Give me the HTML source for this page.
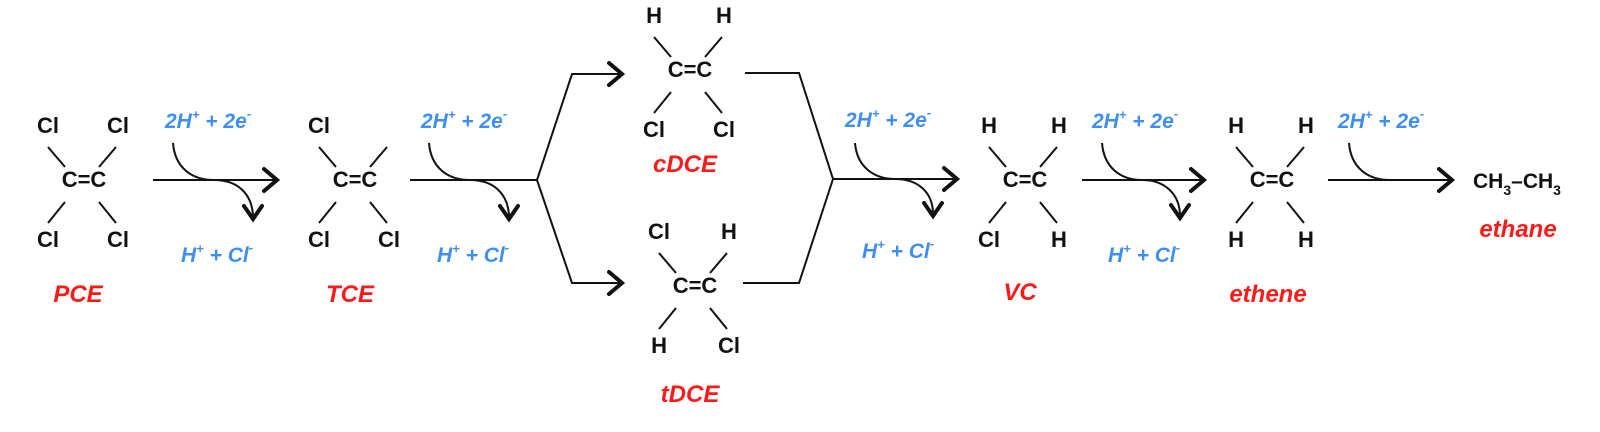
<!DOCTYPE html>
<html><head><meta charset="utf-8"><style>
html,body{margin:0;padding:0;background:#fff;}
svg{display:block;}
.a{font-family:"Liberation Sans",sans-serif;font-weight:bold;font-size:22px;fill:#111;}
.b{font-family:"Liberation Sans",sans-serif;font-weight:bold;font-style:italic;font-size:21px;fill:#3f8ef0;}
.r{font-family:"Liberation Sans",sans-serif;font-weight:bold;font-style:italic;font-size:24px;fill:#ff1a1a;}
.l{stroke:#111;stroke-width:2;fill:none;}
.h{stroke:#111;stroke-width:4;fill:none;stroke-linecap:round;stroke-linejoin:miter;}
</style></head><body>
<svg width="1600" height="432" viewBox="0 0 1600 432" xmlns="http://www.w3.org/2000/svg">

<!-- PCE -->
<g transform="translate(84,187)">
<text class="a" x="0" y="0" text-anchor="middle">C=C</text>
<path class="l" d="M-36,-40 L-19,-20 M32,-40 L15,-20 M-19,15 L-36,36 M15,15 L32,36"/>
<text class="a" x="-36" y="-54" text-anchor="middle">Cl</text>
<text class="a" x="34" y="-54" text-anchor="middle">Cl</text>
<text class="a" x="-36" y="60" text-anchor="middle">Cl</text>
<text class="a" x="34" y="60" text-anchor="middle">Cl</text>
</g>
<text class="r" x="78" y="302" text-anchor="middle">PCE</text>

<!-- TCE -->
<g transform="translate(355,187)">
<text class="a" x="0" y="0" text-anchor="middle">C=C</text>
<path class="l" d="M-36,-40 L-19,-20 M32,-40 L15,-20 M-19,15 L-36,36 M15,15 L32,36"/>
<text class="a" x="-36" y="-54" text-anchor="middle">Cl</text>
<text class="a" x="-36" y="60" text-anchor="middle">Cl</text>
<text class="a" x="34" y="60" text-anchor="middle">Cl</text>
</g>
<text class="r" x="350" y="302" text-anchor="middle">TCE</text>

<!-- cDCE -->
<g transform="translate(690,77)">
<text class="a" x="0" y="0" text-anchor="middle">C=C</text>
<path class="l" d="M-36,-40 L-19,-20 M32,-40 L15,-20 M-19,15 L-36,36 M15,15 L32,36"/>
<text class="a" x="-36" y="-54" text-anchor="middle">H</text>
<text class="a" x="34" y="-54" text-anchor="middle">H</text>
<text class="a" x="-36" y="60" text-anchor="middle">Cl</text>
<text class="a" x="34" y="60" text-anchor="middle">Cl</text>
</g>
<text class="r" x="685" y="172" text-anchor="middle">cDCE</text>

<!-- tDCE -->
<g transform="translate(695,293)">
<text class="a" x="0" y="0" text-anchor="middle">C=C</text>
<path class="l" d="M-36,-40 L-19,-20 M32,-40 L15,-20 M-19,15 L-36,36 M15,15 L32,36"/>
<text class="a" x="-36" y="-54" text-anchor="middle">Cl</text>
<text class="a" x="34" y="-54" text-anchor="middle">H</text>
<text class="a" x="-36" y="60" text-anchor="middle">H</text>
<text class="a" x="34" y="60" text-anchor="middle">Cl</text>
</g>
<text class="r" x="690" y="402" text-anchor="middle">tDCE</text>

<!-- VC -->
<g transform="translate(1025,187)">
<text class="a" x="0" y="0" text-anchor="middle">C=C</text>
<path class="l" d="M-36,-40 L-19,-20 M32,-40 L15,-20 M-19,15 L-36,36 M15,15 L32,36"/>
<text class="a" x="-36" y="-54" text-anchor="middle">H</text>
<text class="a" x="34" y="-54" text-anchor="middle">H</text>
<text class="a" x="-36" y="60" text-anchor="middle">Cl</text>
<text class="a" x="34" y="60" text-anchor="middle">H</text>
</g>
<text class="r" x="1020" y="300" text-anchor="middle">VC</text>

<!-- ethene -->
<g transform="translate(1272,187)">
<text class="a" x="0" y="0" text-anchor="middle">C=C</text>
<path class="l" d="M-36,-40 L-19,-20 M32,-40 L15,-20 M-19,15 L-36,36 M15,15 L32,36"/>
<text class="a" x="-36" y="-54" text-anchor="middle">H</text>
<text class="a" x="34" y="-54" text-anchor="middle">H</text>
<text class="a" x="-36" y="60" text-anchor="middle">H</text>
<text class="a" x="34" y="60" text-anchor="middle">H</text>
</g>
<text class="r" x="1268" y="302" text-anchor="middle">ethene</text>

<!-- ethane -->
<text class="a" x="1473" y="188" style="font-size:21px">CH<tspan dy="7" style="font-size:14px">3</tspan><tspan dy="-7">–CH</tspan><tspan dy="7" style="font-size:14px">3</tspan></text>
<text class="r" x="1518" y="237" text-anchor="middle">ethane</text>

<!-- Arrow 1 -->
<path class="l" d="M153,180 L276,180"/>
<path class="h" d="M264,169 L277,180 L264,191"/>
<path class="l" d="M173,143 C175,168 192,180 214,180 C238,180 252,194 253,216"/>
<path class="h" d="M244,206 L253,219 L262,206"/>
<text class="b" x="165" y="128">2H<tspan dy="-9" style="font-size:13px">+</tspan><tspan dy="9"> + 2e</tspan><tspan dy="-10" style="font-size:13px">-</tspan></text>
<text class="b" x="181" y="262">H<tspan dy="-9" style="font-size:13px">+</tspan><tspan dy="9"> + Cl</tspan><tspan dy="-10" style="font-size:13px">-</tspan></text>

<!-- Arrow 2 + branch -->
<path class="l" d="M410,180 L537,180"/>
<path class="l" d="M429,143 C431,168 448,180 470,180 C494,180 508,194 509,216"/>
<path class="h" d="M500,206 L509,219 L518,206"/>
<text class="b" x="421" y="128">2H<tspan dy="-9" style="font-size:13px">+</tspan><tspan dy="9"> + 2e</tspan><tspan dy="-10" style="font-size:13px">-</tspan></text>
<text class="b" x="437" y="262">H<tspan dy="-9" style="font-size:13px">+</tspan><tspan dy="9"> + Cl</tspan><tspan dy="-10" style="font-size:13px">-</tspan></text>
<path class="l" d="M537,180 L572,74 L621,74 M537,180 L572,283 L621,283"/>
<path class="h" d="M609,63 L622,74 L609,85"/>
<path class="h" d="M609,272 L622,283 L609,294"/>

<!-- merge + Arrow 3 -->
<path class="l" d="M745,73 L799,73 L833,179 L799,283 L743,283"/>
<path class="l" d="M833,179 L956,179"/>
<path class="h" d="M944,168 L957,179 L944,190"/>
<path class="l" d="M855,143 C857,167 874,179 895,179 C918,179 932,192 933,212"/>
<path class="h" d="M924,203 L933,216 L942,203"/>
<text class="b" x="845" y="127">2H<tspan dy="-9" style="font-size:13px">+</tspan><tspan dy="9"> + 2e</tspan><tspan dy="-10" style="font-size:13px">-</tspan></text>
<text class="b" x="862" y="258">H<tspan dy="-9" style="font-size:13px">+</tspan><tspan dy="9"> + Cl</tspan><tspan dy="-10" style="font-size:13px">-</tspan></text>

<!-- Arrow 4 -->
<path class="l" d="M1082,180 L1203,180"/>
<path class="h" d="M1191,169 L1204,180 L1191,191"/>
<path class="l" d="M1102,143 C1104,168 1121,180 1142,180 C1165,180 1179,194 1180,214"/>
<path class="h" d="M1171,205 L1180,218 L1189,205"/>
<text class="b" x="1092" y="128">2H<tspan dy="-9" style="font-size:13px">+</tspan><tspan dy="9"> + 2e</tspan><tspan dy="-10" style="font-size:13px">-</tspan></text>
<text class="b" x="1108" y="262">H<tspan dy="-9" style="font-size:13px">+</tspan><tspan dy="9"> + Cl</tspan><tspan dy="-10" style="font-size:13px">-</tspan></text>

<!-- Arrow 5 -->
<path class="l" d="M1328,180 L1451,180"/>
<path class="h" d="M1439,169 L1452,180 L1439,191"/>
<path class="l" d="M1349,143 C1351,168 1368,180 1390,180"/>
<text class="b" x="1338" y="128">2H<tspan dy="-9" style="font-size:13px">+</tspan><tspan dy="9"> + 2e</tspan><tspan dy="-10" style="font-size:13px">-</tspan></text>
</svg>
</body></html>
